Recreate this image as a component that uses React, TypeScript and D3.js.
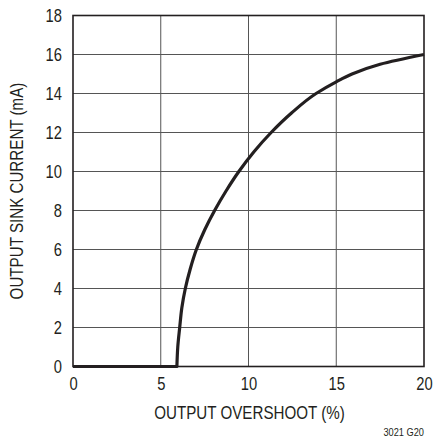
import React, { useEffect, useRef } from "react";
import * as d3 from "d3";

const overshoot = [0, 5.92, 5.97, 6.08, 6.2, 6.4, 6.68, 7.03, 7.5, 8.07, 8.72, 9.45, 10.3, 11.29, 12.45, 13.85, 15, 15.9, 17.5, 20];
const sinkCurrent = [0, 0, 1, 2, 3, 4, 5, 6, 7, 8, 9, 10, 11, 12, 13, 14, 14.6, 15, 15.5, 16];
const xTicks = [0, 5, 10, 15, 20];
const yTicks = [0, 2, 4, 6, 8, 10, 12, 14, 16, 18];

const W = 433;
const H = 440;
const margin = { left: 73, right: 9, top: 15.5, bottom: 73.5 };
const FONT = "'Liberation Sans', Arial, sans-serif";
const NARROW = 0.82; // squeeze to mimic the condensed face

export default function App() {
  const svgRef = useRef<SVGSVGElement>(null);

  useEffect(() => {
    const svg = d3.select(svgRef.current);
    svg.selectAll("*").remove();

    const x = d3.scaleLinear().domain([0, 20]).range([margin.left, W - margin.right]);
    const y = d3.scaleLinear().domain([0, 18]).range([H - margin.bottom, margin.top]);

    // grid
    const grid = svg.append("g").attr("stroke", "#555").attr("stroke-width", 1);
    grid.selectAll(".gx")
      .data(xTicks.slice(1, -1))
      .join("line")
      .attr("x1", (d) => x(d)).attr("x2", (d) => x(d))
      .attr("y1", y(0)).attr("y2", y(18));
    grid.selectAll(".gy")
      .data(yTicks.slice(1, -1))
      .join("line")
      .attr("x1", x(0)).attr("x2", x(20))
      .attr("y1", (d) => y(d)).attr("y2", (d) => y(d));

    // frame
    svg.append("rect")
      .attr("x", x(0)).attr("y", y(18))
      .attr("width", x(20) - x(0)).attr("height", y(0) - y(18))
      .attr("fill", "none").attr("stroke", "#231f20").attr("stroke-width", 1.6);

    // curve: flat part straight, rising part smooth in y
    const pts: [number, number][] = overshoot.map((v, i) => [v, sinkCurrent[i]]);
    const lastZero = sinkCurrent.lastIndexOf(0);
    const flat = pts.slice(0, lastZero + 1);
    const rise = pts.slice(lastZero);

    const straight = d3.line<[number, number]>().x((d) => x(d[0])).y((d) => y(d[1]));
    const smooth = d3.line<[number, number]>()
      .x((d) => x(d[0]))
      .y((d) => y(d[1]))
      .curve(d3.curveMonotoneY);

    svg.append("path")
      .attr("d", straight(flat) + (smooth(rise) as string).replace(/^M/, "L"))
      .attr("fill", "none")
      .attr("stroke", "#231f20")
      .attr("stroke-width", 3.2)
      .attr("stroke-linejoin", "round");

    // tick labels
    const xAxis = d3.axisBottom(x).tickValues(xTicks).tickSize(0).tickPadding(11);
    const gx = svg.append("g").attr("transform", `translate(0,${y(0)})`).call(xAxis);
    gx.select(".domain").remove();
    gx.selectAll("text")
      .attr("font-family", FONT).attr("font-size", 18).attr("fill", "#231f20")
      .attr("transform", `scale(${NARROW},1)`);

    const yAxis = d3.axisLeft(y).tickValues(yTicks).tickSize(0);
    const gy = svg.append("g").attr("transform", `translate(${x(0)},0)`).call(yAxis);
    gy.select(".domain").remove();
    gy.selectAll("text")
      .attr("font-family", FONT).attr("font-size", 18).attr("fill", "#231f20")
      .attr("x", -11 / NARROW).attr("dy", "0.36em")
      .attr("transform", `scale(${NARROW},1)`);

    // titles
    svg.append("text")
      .attr("transform", `translate(${(x(0) + x(20)) / 2 + 1},419) scale(${NARROW},1)`)
      .attr("text-anchor", "middle")
      .attr("font-family", FONT)
      .attr("font-size", 18.5)
      .attr("fill", "#231f20")
      .text("OUTPUT OVERSHOOT (%)");

    svg.append("text")
      .attr("transform", `translate(23,${(y(0) + y(18)) / 2}) rotate(-90) scale(${NARROW},1)`)
      .attr("text-anchor", "middle")
      .attr("font-family", FONT)
      .attr("font-size", 18.5)
      .attr("fill", "#231f20")
      .text("OUTPUT SINK CURRENT (mA)");

    svg.append("text")
      .attr("transform", `translate(${x(20)},436) scale(0.88,1)`)
      .attr("text-anchor", "end")
      .attr("font-family", FONT)
      .attr("font-size", 10.5)
      .attr("fill", "#231f20")
      .text("3021 G20");
  }, []);

  return (
    <svg
      ref={svgRef}
      width={W}
      height={H}
      style={{ position: "absolute", left: 0, top: 0, background: "#fff" }}
    />
  );
}
